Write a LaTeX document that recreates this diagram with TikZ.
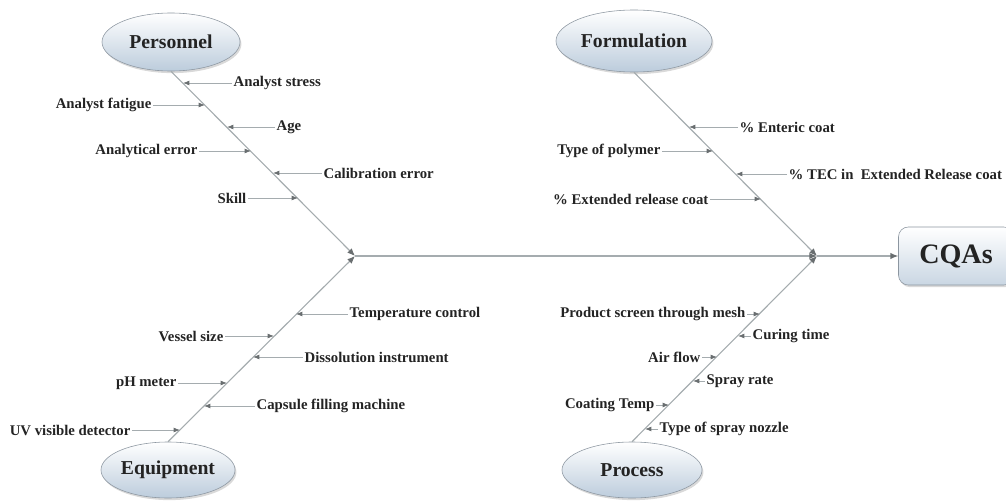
\documentclass[tikz,border=0pt]{standalone}
\usepackage{fontspec}
\setmainfont{Liberation Serif}
\usepackage{tikz}
\usetikzlibrary{shapes.geometric, arrows.meta, shadows}
\definecolor{bonegray}{RGB}{165, 172, 175}
\definecolor{tipgray}{RGB}{105, 110, 112}
\definecolor{txtgray}{RGB}{35, 35, 35}
\definecolor{ellblue}{RGB}{188, 204, 220}
\definecolor{edgegray}{RGB}{140, 150, 160}

\begin{document}
\begin{tikzpicture}[x=0.025cm, y=-0.025cm,
  cat/.style={draw=edgegray, ellipse, top color=white, bottom color=ellblue,
    font=\fontsize{14}{16}\selectfont\bfseries, text=txtgray, inner sep=0pt,
    drop shadow={opacity=0.3, shadow xshift=1pt, shadow yshift=-1.5pt}},
  lbl/.style={font=\fontsize{10.5}{12}\selectfont\bfseries, text=txtgray, inner sep=1pt},
  arr/.style={-{Latex[length=4.5pt, width=3.5pt, color=tipgray]}, draw=bonegray, line width=0.6pt},
  bone/.style={-{Latex[length=5.5pt, width=4.5pt, color=tipgray]}, draw=bonegray, line width=0.8pt}
]
  \useasboundingbox (0,0) rectangle (1006,500);

  % Categories
  \node[cat, minimum width=3.45cm, minimum height=1.45cm] (pers) at (171,42) {Personnel};
  \node[cat, minimum width=3.9cm, minimum height=1.55cm] (form) at (634,41) {Formulation};
  \node[cat, minimum width=3.35cm, minimum height=1.4cm] (equip) at (168,470) {Equipment};
  \node[cat, minimum width=3.5cm, minimum height=1.4cm] (proc) at (632,470) {Process};

  % Effect
  \node[draw=edgegray, rounded corners=7pt, top color=white, bottom color=ellblue!80,
    minimum width=2.875cm, minimum height=1.45cm, text=txtgray,
    font=\fontsize{20}{22}\selectfont\bfseries,
    drop shadow={opacity=0.3, shadow xshift=1pt, shadow yshift=-1.5pt}] (cqa) at (956,256) {CQAs};

  % Spine
  \coordinate (jl) at (355,256);
  \coordinate (jr) at (817,256);
  \draw[bone] (pers.south) -- (jl);
  \draw[bone] (equip.north) -- (jl);
  \draw[bone] (form.south) -- (jr);
  \draw[bone] (proc.north) -- (jr);
  \draw[bone] (jl) -- (jr);
  \draw[bone] (jr) -- (cqa);

  % Personnel causes
  \coordinate (p1) at (183,83);
  \coordinate (p2) at (205,105);
  \coordinate (p3) at (227,127);
  \coordinate (p4) at (251,151);
  \coordinate (p5) at (273,173);
  \coordinate (p6) at (298,198);
  \node[lbl, anchor=west] (pl1) at (232,83) {Analyst stress};
  \node[lbl, anchor=east] (pl2) at (153,105) {Analyst fatigue};
  \node[lbl, anchor=west] (pl3) at (275,127) {Age};
  \node[lbl, anchor=east] (pl4) at (199,151) {Analytical error};
  \node[lbl, anchor=west] (pl5) at (322,173) {Calibration error};
  \node[lbl, anchor=east] (pl6) at (248,198) {Skill};
  \draw[arr] (pl1) -- (p1);
  \draw[arr] (pl2) -- (p2);
  \draw[arr] (pl3) -- (p3);
  \draw[arr] (pl4) -- (p4);
  \draw[arr] (pl5) -- (p5);
  \draw[arr] (pl6) -- (p6);

  % Formulation causes
  \coordinate (f1) at (689,127);
  \coordinate (f2) at (713,151);
  \coordinate (f3) at (736,174);
  \coordinate (f4) at (761,199);
  \node[lbl, anchor=west] (fl1) at (738,127) {\% Enteric coat};
  \node[lbl, anchor=east] (fl2) at (662,151) {Type of polymer};
  \node[lbl, anchor=west] (fl3) at (787,174) {\% TEC in~ Extended Release coat};
  \node[lbl, anchor=east] (fl4) at (710,199) {\% Extended release coat};
  \draw[arr] (fl1) -- (f1);
  \draw[arr] (fl2) -- (f2);
  \draw[arr] (fl3) -- (f3);
  \draw[arr] (fl4) -- (f4);

  % Equipment causes
  \coordinate (e1) at (296,314);
  \coordinate (e2) at (274,336);
  \coordinate (e3) at (253,357);
  \coordinate (e4) at (227,383);
  \coordinate (e5) at (204,406);
  \coordinate (e6) at (180,430);
  \node[lbl, anchor=west] (el1) at (348,314) {Temperature control};
  \node[lbl, anchor=east] (el2) at (225,336) {Vessel size};
  \node[lbl, anchor=west] (el3) at (303,357) {Dissolution instrument};
  \node[lbl, anchor=east] (el4) at (178,383) {pH meter};
  \node[lbl, anchor=west] (el5) at (255,406) {Capsule filling machine};
  \node[lbl, anchor=east] (el6) at (132,430) {UV visible detector};
  \draw[arr] (el1) -- (e1);
  \draw[arr] (el2) -- (e2);
  \draw[arr] (el3) -- (e3);
  \draw[arr] (el4) -- (e4);
  \draw[arr] (el5) -- (e5);
  \draw[arr] (el6) -- (e6);

  % Process causes
  \coordinate (r1) at (760,314);
  \coordinate (r2) at (738,336);
  \coordinate (r3) at (717,357);
  \coordinate (r4) at (693,381);
  \coordinate (r5) at (669,405);
  \coordinate (r6) at (645,429);
  \node[lbl, anchor=east] (rl1) at (747,314) {Product screen through mesh};
  \node[lbl, anchor=west] (rl2) at (751,336) {Curing time};
  \node[lbl, anchor=east] (rl3) at (702,357) {Air flow};
  \node[lbl, anchor=west] (rl4) at (705,381) {Spray rate};
  \node[lbl, anchor=east] (rl5) at (656,405) {Coating Temp};
  \node[lbl, anchor=west] (rl6) at (658,429) {Type of spray nozzle};
  \draw[arr] (rl1) -- (r1);
  \draw[arr] (rl2) -- (r2);
  \draw[arr] (rl3) -- (r3);
  \draw[arr] (rl4) -- (r4);
  \draw[arr] (rl5) -- (r5);
  \draw[arr] (rl6) -- (r6);
\end{tikzpicture}
\end{document}
